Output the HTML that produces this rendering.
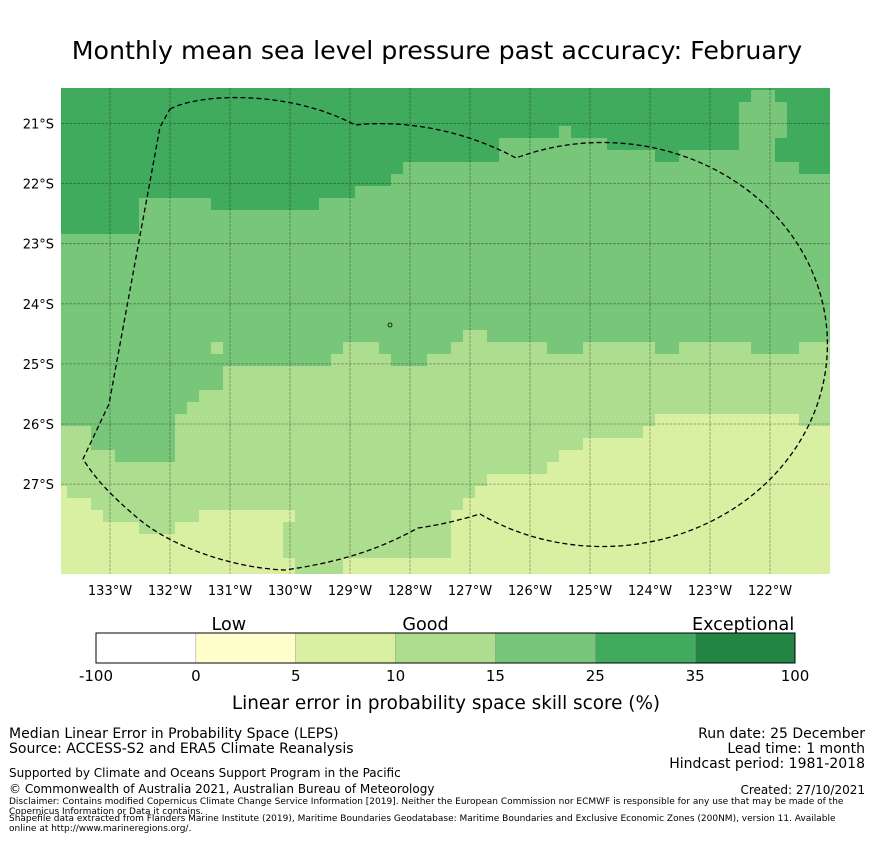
<!DOCTYPE html>
<html><head><meta charset="utf-8"><style>
body{margin:0;background:#fff;width:873px;height:839px;overflow:hidden;font-family:"Liberation Sans","DejaVu Sans",sans-serif;}
svg text{font-family:"DejaVu Sans","Liberation Sans",sans-serif;}
</style></head><body>
<svg id="s" width="873" height="839" xmlns="http://www.w3.org/2000/svg">
<defs><clipPath id="mc"><rect x="61" y="88" width="769" height="486"/></clipPath></defs>
<text x="437" y="59" font-size="25.3" text-anchor="middle" fill="#000">Monthly mean sea level pressure past accuracy: February</text>
<g id="map" clip-path="url(#mc)"></g>
<g id="grid"></g>
<g id="outline">
<path d="M170,109 C200,93 290,90 355,125 C400,120 460,128 516,158 A225,202 0 1 1 480,514 C460,520 440,525 418,528 C390,543 355,560 285,570 C230,568 170,545 140,520 C110,495 95,478 83,459 L109,404 L160,127 Z" fill="none" stroke="#000" stroke-width="1.3" stroke-dasharray="5,3"/>
<circle cx="390" cy="325" r="2" fill="none" stroke="#000" stroke-width="0.8"/>
</g>
<g id="axes"></g>
<g id="cbar"></g>
<text x="446" y="709" font-size="18.4" text-anchor="middle">Linear error in probability space skill score (%)</text>
<g font-family="Liberation Sans, sans-serif">
<text x="9" y="738" font-size="14">Median Linear Error in Probability Space (LEPS)</text>
<text x="9" y="753" font-size="14">Source: ACCESS-S2 and ERA5 Climate Reanalysis</text>
<text x="9" y="777" font-size="12">Supported by Climate and Oceans Support Program in the Pacific</text>
<text x="9" y="793" font-size="12">© Commonwealth of Australia 2021, Australian Bureau of Meteorology</text>
<text x="9" y="804" font-size="9">Disclaimer: Contains modified Copernicus Climate Change Service Information [2019]. Neither the European Commission nor ECMWF is responsible for any use that may be made of the</text>
<text x="9" y="814" font-size="9">Copernicus Information or Data it contains.</text>
<text x="9" y="821" font-size="9">Shapefile data extracted from Flanders Marine Institute (2019), Maritime Boundaries Geodatabase: Maritime Boundaries and Exclusive Economic Zones (200NM), version 11. Available</text>
<text x="9" y="831" font-size="9">online at http://www.marineregions.org/.</text>
<text x="865" y="738" font-size="14" text-anchor="end">Run date: 25 December</text>
<text x="865" y="753" font-size="14" text-anchor="end">Lead time: 1 month</text>
<text x="865" y="768" font-size="14" text-anchor="end">Hindcast period: 1981-2018</text>
<text x="865" y="794" font-size="12" text-anchor="end">Created: 27/10/2021</text>
</g>
</svg>
<script>
const NS="http://www.w3.org/2000/svg";
// per-column band ends (row indices), columns c=-1..63
const darkEnd=[12,12,12,12,12,12,12, 9,9,9,9,9,9, 10,10,10,10,10,10,10,10,10, 9,9,9, 8,8,8, 7, 6,6,6,6,6,6,6,6, 4,4,4,4,4, 3, 4,4,4, 5,5,5,5, 6,6, 5,5,5,5,5, 1, 0,0, 6, 6, 7,7,7];
const medEnd=[28,28,28, 30,30, 31,31,31,31,31, 27, 26, 25,25, 23,23,23,23,23,23,23,23,23, 22, 21,21,21, 22, 23,23,23, 22,22, 21, 20,20, 21,21,21,21,21, 22,22,22, 21,21,21,21,21,21, 22,22, 21,21,21,21,21,21, 22,22,22,22, 21,21,21];
const lightEnd=[33, 34,34, 35, 36,36,36, 37,37,37, 36,36, 35,35,35,35,35,35,35, 35, 41,41,41,41, 39,39,39,39,39,39,39,39,39, 35, 34, 33, 32,32,32,32,32, 31, 30,30, 29,29,29,29,29, 28, 27,27,27,27,27,27,27,27,27,27,27,27, 28,28,28];
const patches=[[12,21,22,'l'],[59,1,4,'m'],[18,36,39,'l']];
const colors={d:'#41ab5d',m:'#78c679',l:'#addd8e',p:'#d9f0a3'};
const colX=c=>67+12*c, rowY=r=>90+12*r;
const map=document.getElementById('map');
function rect(g,x,y,w,h,f,name){const e=document.createElementNS(NS,'rect');e.setAttribute('x',x);e.setAttribute('y',y);e.setAttribute('width',w);e.setAttribute('height',h);e.setAttribute('fill',f);


g.appendChild(e);return e;}
for(let i=0;i<darkEnd.length;i++){const c=i-1,x=colX(c);
 const bands=[[-1,darkEnd[i],'d'],[darkEnd[i],medEnd[i],'m'],[medEnd[i],lightEnd[i],'l'],[lightEnd[i],42,'p']];
 bands.forEach(b=>{if(b[1]>b[0])rect(map,x,rowY(b[0]),12.3,(b[1]-b[0])*12+0.3,colors[b[2]],'heatmap-cell');});}
patches.forEach(p=>rect(map,colX(p[0]),rowY(p[1]),12,(p[2]-p[1])*12,colors[p[3]],'heatmap-cell'));
// axes
const lons=[133,132,131,130,129,128,127,126,125,124,123,122];
const lats=[21,22,23,24,25,26,27];
const lonX=l=>110+(133-l)*60, latY=l=>123.5+(l-21)*60.1;
const grid=document.getElementById('grid'),axes=document.getElementById('axes');
function line(x1,y1,x2,y2){const e=document.createElementNS(NS,'line');e.setAttribute('x1',x1);e.setAttribute('y1',y1);e.setAttribute('x2',x2);e.setAttribute('y2',y2);e.setAttribute('stroke','rgba(0,0,0,0.35)');e.setAttribute('stroke-width','0.8');e.setAttribute('stroke-dasharray','3,1');


grid.appendChild(e);}
function txt(g,x,y,s,fs,anchor,name){const e=document.createElementNS(NS,'text');e.setAttribute('x',x);e.setAttribute('y',y);e.setAttribute('font-size',fs);e.setAttribute('text-anchor',anchor);e.textContent=s;


g.appendChild(e);}
lons.forEach(l=>{const x=lonX(l);line(x,88,x,574);txt(axes,x,595,l+'°W',13,'middle','lon-tick-label');});
lats.forEach(l=>{const y=latY(l);line(61,y,830,y);txt(axes,54,y+5,l+'°S',13,'end','lat-tick-label');});
// colorbar
const cbColors=['#ffffff','#ffffcc','#d9f0a3','#addd8e','#78c679','#41ab5d','#238443'];
const cbTicks=['-100','0','5','10','15','25','35','100'];
const cbCats=['Low','Good','Exceptional'];
const cbCatPos=[1.33,3.3,6.48];
const cb=document.getElementById('cbar');
const cbX=i=>96+i*99.86;
cbColors.forEach((c,i)=>{const r=rect(cb,cbX(i),633,99.86,30,c,'colorbar-segment');r.setAttribute('stroke','#999');r.setAttribute('stroke-width','0.5');});
rect(cb,96,633,699,30,'none','colorbar-frame').setAttribute('stroke','#000');
cbTicks.forEach((t,i)=>txt(cb,cbX(i),681,t,15,'middle','colorbar-tick-label'));
cbCats.forEach((t,i)=>txt(cb,cbX(cbCatPos[i]),630,t,17.6,'middle','colorbar-category-label'));
</script>
</body></html>
